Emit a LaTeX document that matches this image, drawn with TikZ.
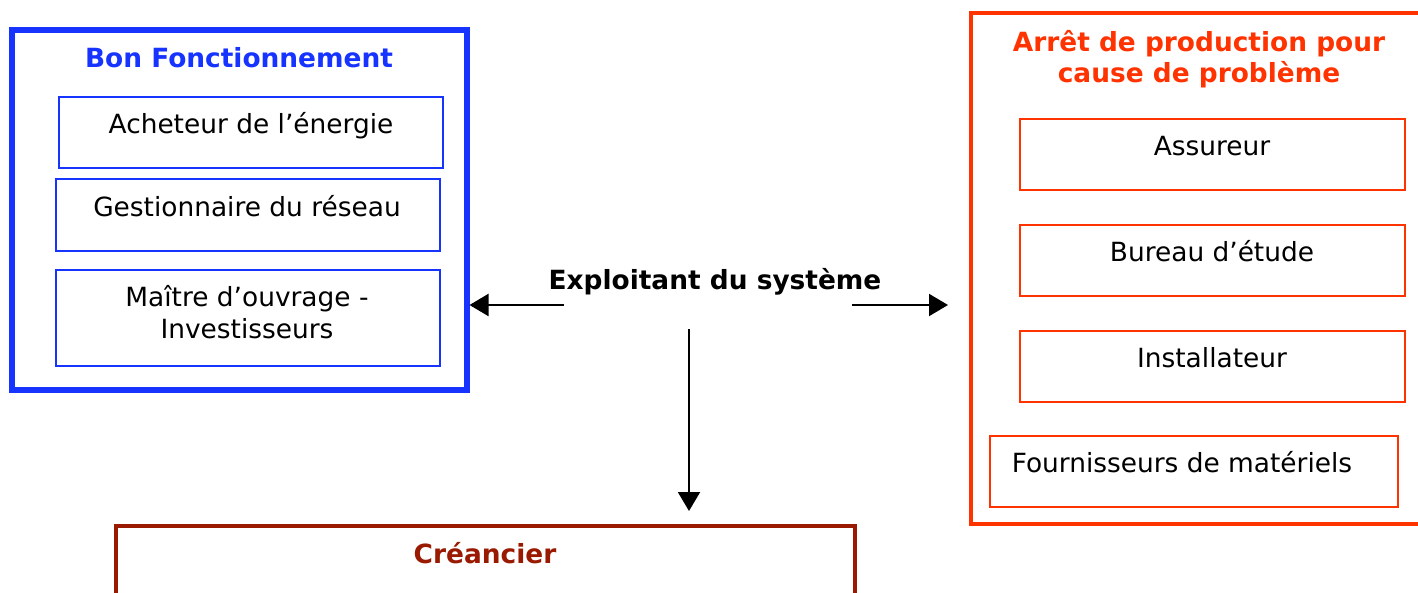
\documentclass[tikz,border=0pt]{standalone}
\usepackage{fontspec}
\setmainfont{DejaVu Sans}
\usetikzlibrary{arrows.meta}
\definecolor{cblue}{RGB}{22,51,255}
\definecolor{cred}{RGB}{255,51,0}
\definecolor{ccrim}{RGB}{153,26,0}
\tikzset{
  txt/.style={anchor=base,inner sep=0pt,font=\fontsize{26.4}{32}\selectfont,align=center},
  ttl/.style={txt,font=\fontsize{26.4}{31}\selectfont\bfseries},
  outerblue/.style={draw=cblue,line width=6pt},
  innerblue/.style={draw=cblue,line width=1.6pt,minimum width=384pt,inner sep=0pt},
  outerred/.style={draw=cred,line width=4pt},
  innerred/.style={draw=cred,line width=2pt,minimum width=385pt,minimum height=71pt,inner sep=0pt},
  outercrim/.style={draw=ccrim,line width=4pt},
  arr/.style={line width=2pt,-{Triangle[length=19pt,width=22pt]}}
}
\begin{document}
\begin{tikzpicture}[x=1pt,y=-1pt]
\useasboundingbox (0,0) rectangle (1418,593);
\fill[white] (0,0) rectangle (1418,593);
\clip (0,0) rectangle (1418,593);
% blue group
\node[outerblue,minimum width=455pt,minimum height=360pt,inner sep=0pt] (blue) at (239,210) {};
\node[ttl,text=cblue] (bluet) at (239,68) {Bon Fonctionnement};
\node[innerblue,minimum height=71pt] (b1) at (251,132.5) {};
\node[txt] (b1t) at (251,134) {Acheteur de l’énergie};
\node[innerblue,minimum height=72pt] (b2) at (248,215) {};
\node[txt] (b2t) at (247,217) {Gestionnaire du réseau};
\node[innerblue,minimum height=96pt] (b3) at (248,318) {};
\node[txt] (b3t) at (247,338) {Maître d’ouvrage -\\Investisseurs};
% red group
\node[outerred,minimum width=460pt,minimum height=511pt,inner sep=0pt] (red) at (1201,268.5) {};
\node[ttl,text=cred] (redt) at (1199,83) {Arrêt de production pour\\cause de problème};
\node[innerred] (r1) at (1212,155) {};
\node[txt] (r1t) at (1212,156) {Assureur};
\node[innerred] (r2) at (1212,260.5) {};
\node[txt] (r2t) at (1212,262) {Bureau d’étude};
\node[innerred] (r3) at (1212,366.5) {};
\node[txt] (r3t) at (1212,367) {Installateur};
\node[innerred,minimum width=408pt] (r4) at (1194,471.5) {};
\node[txt] (r4t) at (1182,472) {Fournisseurs de matériels};
% bottom
\node[outercrim,minimum width=739pt,minimum height=120pt,inner sep=0pt] (crim) at (485.5,586) {};
\node[ttl,text=ccrim] (crimt) at (485,563) {Créancier};
% centre
\node[ttl] (exp) at (715,290) {Exploitant du système};
\coordinate (aL) at (564,305);
\coordinate (aR) at (852,305);
\coordinate (tR) at (948,305);
\coordinate (aD) at (689,329);
\coordinate (tD) at (689,511);
\draw[arr] (aL) -- (aL -| blue.east);
\draw[arr] (aR) -- (tR);
\draw[arr] (aD) -- (tD);
\end{tikzpicture}
\end{document}
